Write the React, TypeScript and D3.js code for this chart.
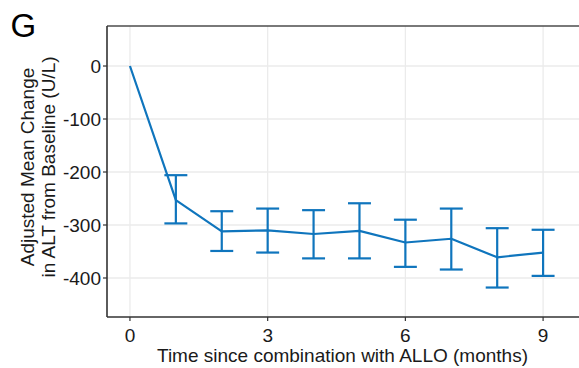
import React from "react";
import * as d3 from "d3";

const months = [0, 1, 2, 3, 4, 5, 6, 7, 8, 9];
const means = [0, -253, -312, -310, -317, -311, -333, -326, -361, -352];
const upper = [null, -206, -274, -269, -272, -259, -290, -269, -306, -309];
const lower = [null, -297, -349, -352, -363, -363, -379, -384, -418, -396];
const xTicks = [0, 3, 6, 9];
const yTicks = [0, -100, -200, -300, -400];

const W = 579;
const H = 368;
const left = 107;
const top = 26;
const bottom = 317;
const right = 589;
const font = "'Liberation Sans', Arial, sans-serif";
const blue = "#0f75bd";

export default function App() {
  const x = d3.scaleLinear().domain([-0.5, 10]).range([left, right]);
  const y = d3.scaleLinear().domain([75.5, -473.6]).range([top, bottom]);
  const line = d3
    .line<number>()
    .x((_, i) => x(months[i]))
    .y((d) => y(d));
  const capHalf = x(0.25) - x(0);
  const midY = 167;

  return (
    <svg
      width={W}
      height={H}
      style={{ position: "absolute", left: 0, top: 0, background: "#fff" }}
      fontFamily={font}
    >
      <rect x={0} y={0} width={W} height={H} fill="#fff" />
      {xTicks.map((t) => (
        <line key={"gx" + t} x1={x(t)} x2={x(t)} y1={top} y2={bottom} stroke="#ebebeb" strokeWidth={1.3} />
      ))}
      {yTicks.map((t) => (
        <line key={"gy" + t} x1={left} x2={W} y1={y(t)} y2={y(t)} stroke="#ebebeb" strokeWidth={1.3} />
      ))}
      {months.map((m, i) =>
        upper[i] == null ? null : (
          <g key={"eb" + m} stroke={blue} strokeWidth={2.2} fill="none">
            <line x1={x(m)} x2={x(m)} y1={y(upper[i] as number)} y2={y(lower[i] as number)} />
            <line x1={x(m) - capHalf} x2={x(m) + capHalf} y1={y(upper[i] as number)} y2={y(upper[i] as number)} />
            <line x1={x(m) - capHalf} x2={x(m) + capHalf} y1={y(lower[i] as number)} y2={y(lower[i] as number)} />
          </g>
        )
      )}
      <path d={line(means) || ""} fill="none" stroke={blue} strokeWidth={2.2} strokeLinejoin="round" />
      <line x1={left} x2={W} y1={top} y2={top} stroke="#4d4d4d" strokeWidth={1.6} />
      <line x1={left} x2={left} y1={top} y2={bottom} stroke="#333" strokeWidth={1.6} />
      <line x1={left} x2={W} y1={bottom} y2={bottom} stroke="#333" strokeWidth={1.6} />
      {yTicks.map((t) => (
        <g key={"yt" + t}>
          <line x1={left - 4} x2={left} y1={y(t)} y2={y(t)} stroke="#333" strokeWidth={1.2} />
          <text x={left - 6} y={y(t)} dy="0.36em" textAnchor="end" fontSize={19} fill="#1a1a1a">
            {t}
          </text>
        </g>
      ))}
      {xTicks.map((t) => (
        <g key={"xt" + t}>
          <line x1={x(t)} x2={x(t)} y1={bottom} y2={bottom + 4} stroke="#333" strokeWidth={1.2} />
          <text x={x(t)} y={342} textAnchor="middle" fontSize={19} fill="#1a1a1a">
            {t}
          </text>
        </g>
      ))}
      <text x={342.5} y={362} textAnchor="middle" fontSize={19} fill="#1a1a1a">
        Time since combination with ALLO (months)
      </text>
      <text transform={`translate(34, ${midY}) rotate(-90)`} textAnchor="middle" fontSize={19} fill="#1a1a1a">
        Adjusted Mean Change
      </text>
      <text transform={`translate(54.5, ${midY}) rotate(-90)`} textAnchor="middle" fontSize={19} fill="#1a1a1a">
        in ALT from Baseline (U/L)
      </text>
      <text x={10.5} y={37} fontSize={33} fill="#000">
        G
      </text>
    </svg>
  );
}
